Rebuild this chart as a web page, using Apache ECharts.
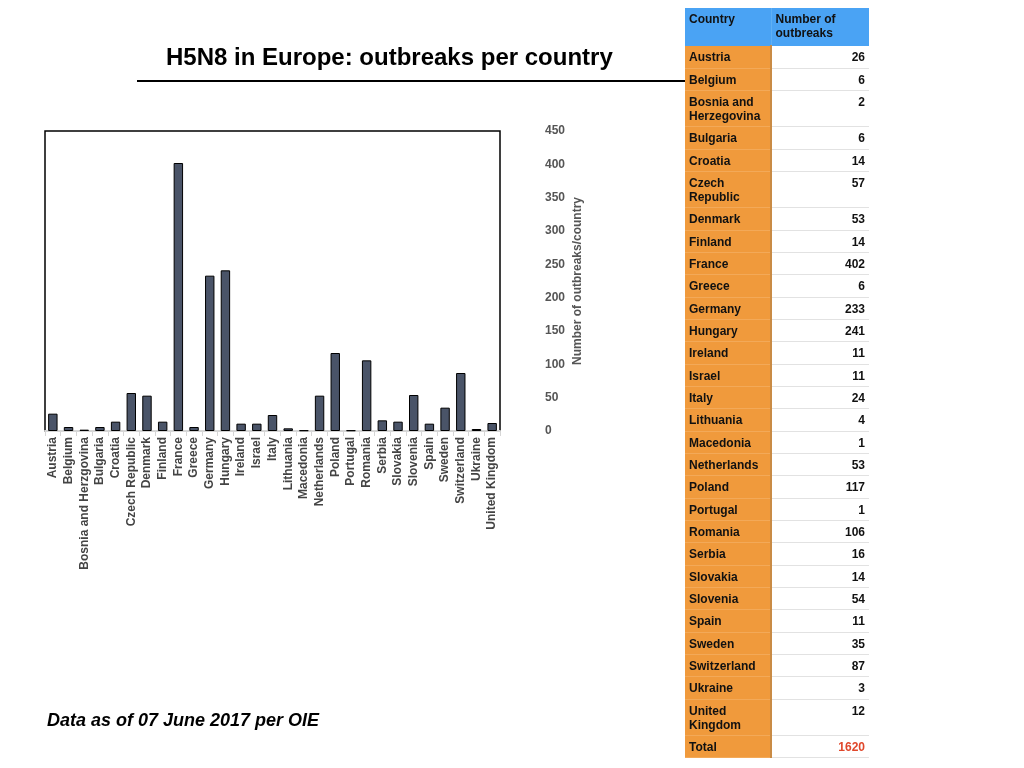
<!DOCTYPE html>
<html>
<head>
<meta charset="utf-8">
<title>H5N8 in Europe</title>
<script src="https://cdn.jsdelivr.net/npm/echarts@6/dist/echarts.min.js"></script>
<style>
  html, body { margin: 0; padding: 0; background: #fff; }
  #main { position: absolute; left: 0; top: 0; width: 1024px; height: 768px; }
  #tbl {
    position: absolute; left: 685px; top: 8px; width: 184px;
    border-collapse: collapse; table-layout: fixed;
    font-family: "Liberation Sans", Arial, sans-serif; font-weight: bold; font-size: 12px; color: #111;
  }
  #tbl td, #tbl th {
    padding: 4px 4px 3.33px 4px; line-height: 14px; vertical-align: top; text-align: left;
    border-bottom: 1px solid #e2e2e2;
  }
  #tbl th { background: #4aa3f4; height: 30px; border-bottom: 1px solid #4aa3f4; font-weight: bold; }
  #tbl td.c { background: #f09a3c; border-right: 2px solid #c98b45; border-bottom: 1px solid #f3a958; }
  #tbl th.c { border-right: 1px solid #5fb0f5; }
  #tbl td.v { text-align: right; background: #fff; }
  #tbl td.tot { color: #e0472b; }
</style>
</head>
<body>
<div id="main"></div>
<table id="tbl"></table>
<script type="text/javascript">
    // categories as in the chart axis
    var countries = ['Austria', 'Belgium', 'Bosnia and Herzgovina', 'Bulgaria', 'Croatia', 'Czech Republic',
        'Denmark', 'Finland', 'France', 'Greece', 'Germany', 'Hungary', 'Ireland', 'Israel', 'Italy',
        'Lithuania', 'Macedonia', 'Netherlands', 'Poland', 'Portugal', 'Romania', 'Serbia', 'Slovakia',
        'Slovenia', 'Spain', 'Sweden', 'Switzerland', 'Ukraine', 'United Kingdom'];
    // names as written in the table
    var tableNames = ['Austria', 'Belgium', 'Bosnia and Herzegovina', 'Bulgaria', 'Croatia', 'Czech Republic',
        'Denmark', 'Finland', 'France', 'Greece', 'Germany', 'Hungary', 'Ireland', 'Israel', 'Italy',
        'Lithuania', 'Macedonia', 'Netherlands', 'Poland', 'Portugal', 'Romania', 'Serbia', 'Slovakia',
        'Slovenia', 'Spain', 'Sweden', 'Switzerland', 'Ukraine', 'United Kingdom'];
    var outbreaks = [26, 6, 2, 6, 14, 57, 53, 14, 402, 6, 233, 241, 11, 11, 24, 4, 1, 53, 117, 1, 106,
        16, 14, 54, 11, 35, 87, 3, 12];
    var total = 1620;
    var yTicks = [0, 50, 100, 150, 200, 250, 300, 350, 400, 450];

    // table
    var html = '<tr><th class="c">Country</th><th>Number of<br>outbreaks</th></tr>';
    for (var i = 0; i < tableNames.length; i++) {
        var nm = tableNames[i];
        if (nm === 'Bosnia and Herzegovina') nm = 'Bosnia and<br>Herzegovina';
        if (nm === 'Czech Republic') nm = 'Czech<br>Republic';
        if (nm === 'United Kingdom') nm = 'United<br>Kingdom';
        html += '<tr><td class="c">' + nm + '</td><td class="v">' + outbreaks[i] + '</td></tr>';
    }
    html += '<tr><td class="c">Total</td><td class="v tot">' + total + '</td></tr>';
    document.getElementById('tbl').innerHTML = html;
    var cols = '<colgroup><col style="width:86px"><col style="width:98px"></colgroup>';
    document.getElementById('tbl').insertAdjacentHTML('afterbegin', cols);

    var chart = echarts.init(document.getElementById('main'));
    var font = '"Liberation Sans", Arial, sans-serif';
    chart.setOption({
        animation: false,
        title: {
            text: 'H5N8 in Europe: outbreaks per country',
            left: 161, top: 41,
            textStyle: { fontFamily: font, fontSize: 24, fontWeight: 'bold', color: '#000' }
        },
        graphic: [
            { type: 'line', shape: { x1: 137, y1: 81, x2: 686, y2: 81 },
              style: { stroke: '#000', lineWidth: 2 } },
            { type: 'text', left: 47, top: 712,
              style: { text: 'Data as of 07 June 2017 per OIE', fill: '#000',
                       font: 'italic bold 18px "Liberation Sans", Arial, sans-serif' } }
        ],
        grid: {
            left: 45, top: 131, width: 455, height: 300,
            show: true, borderColor: '#000', borderWidth: 1.5, backgroundColor: '#fff'
        },
        xAxis: {
            type: 'category',
            data: countries,
            axisLine: { lineStyle: { color: '#d6d6d6', width: 2 } },
            axisTick: { show: true, alignWithLabel: false, length: 5, lineStyle: { color: '#d6d6d6' } },
            axisLabel: { rotate: 90, interval: 0, margin: 6, fontFamily: font, fontSize: 12,
                         fontWeight: 'bold', color: '#444' }
        },
        yAxis: {
            type: 'value',
            position: 'right',
            min: 0, max: 450, interval: 50,
            name: 'Number of outbreaks/country',
            nameLocation: 'middle', nameRotate: 90, nameGap: 72,
            nameTextStyle: { fontFamily: font, fontSize: 12, fontWeight: 'bold', color: '#555' },
            splitLine: { show: false },
            axisLine: { show: false },
            axisTick: { show: false },
            axisLabel: { margin: 45, align: 'left', fontFamily: font, fontSize: 12, fontWeight: 'bold',
                         color: '#555',
                         formatter: function (v) { return yTicks.indexOf(v) >= 0 ? String(v) : ''; } }
        },
        series: [{
            type: 'bar',
            data: outbreaks,
            barCategoryGap: '40%',
            itemStyle: { color: '#4a5468', borderColor: '#000', borderWidth: 1 }
        }]
    });
</script>
</body>
</html>
